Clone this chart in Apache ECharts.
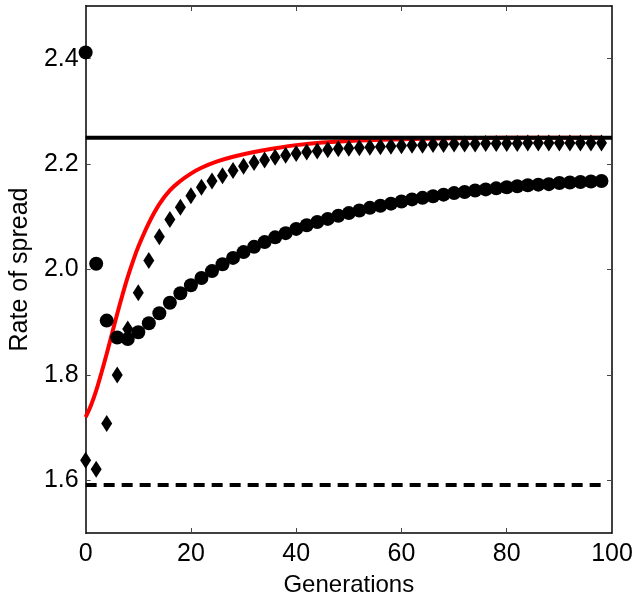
<!DOCTYPE html>
<html>
<head>
<meta charset="utf-8">
<script src="https://cdn.jsdelivr.net/npm/echarts@6/dist/echarts.min.js"></script>
<style>
  html, body { margin: 0; padding: 0; background: #fff; }
  #chart { width: 639px; height: 602px; }
</style>
</head>
<body>
<div id="chart"></div>
<script>
// generations sampled by the two simulations (every 2nd generation)
const generations = [0, 2, 4, 6, 8, 10, 12, 14, 16, 18, 20, 22, 24, 26, 28, 30, 32, 34, 36, 38,
  40, 42, 44, 46, 48, 50, 52, 54, 56, 58, 60, 62, 64, 66, 68, 70, 72, 74, 76, 78,
  80, 82, 84, 86, 88, 90, 92, 94, 96, 98];

const circleRate = [2.412, 2.011, 1.903, 1.871, 1.868, 1.881, 1.898, 1.917, 1.937, 1.955,
  1.970, 1.984, 1.997, 2.010, 2.022, 2.033, 2.043, 2.052, 2.061, 2.069,
  2.077, 2.084, 2.090, 2.096, 2.102, 2.107, 2.112, 2.117, 2.121, 2.125,
  2.129, 2.133, 2.136, 2.139, 2.142, 2.145, 2.147, 2.150, 2.152, 2.154,
  2.156, 2.158, 2.160, 2.161, 2.162, 2.164, 2.165, 2.166, 2.167, 2.168];

const diamondRate = [1.638, 1.621, 1.708, 1.800, 1.887, 1.956, 2.017, 2.062, 2.095, 2.118,
  2.140, 2.156, 2.168, 2.178, 2.188, 2.196, 2.203, 2.208, 2.213, 2.217,
  2.220, 2.223, 2.225, 2.227, 2.229, 2.230, 2.231, 2.232, 2.233, 2.234,
  2.235, 2.236, 2.236, 2.237, 2.237, 2.238, 2.238, 2.238, 2.239, 2.239,
  2.239, 2.239, 2.240, 2.240, 2.240, 2.240, 2.240, 2.240, 2.240, 2.240];

// red theory curve
const curveX = [0, 1, 2, 3, 4, 5, 6, 7, 8, 9, 10, 12, 14, 16, 18, 20, 22, 25, 28, 32, 36, 40, 45, 50, 60, 70, 80, 90, 98];
const curveY = [1.720, 1.742, 1.770, 1.804, 1.840, 1.878, 1.916, 1.952, 1.986, 2.016, 2.043, 2.088, 2.124, 2.150, 2.168, 2.182, 2.193, 2.205, 2.214, 2.223, 2.230, 2.236, 2.241, 2.244, 2.247, 2.249, 2.250, 2.250, 2.250];

const upperLevel = 2.25;
const lowerLevel = 1.591;
const upperSpan = [0, 100];
const lowerSpan = [0, 99];

const yTicks = [1.6, 1.8, 2.0, 2.2, 2.4];

const chart = echarts.init(document.getElementById('chart'));

const font = 'Liberation Sans, Arial, sans-serif';
const frame = { show: true, onZero: false, lineStyle: { color: '#000', width: 1.5 } };
const tick = { show: true, inside: true, length: 5, lineStyle: { color: '#444', width: 1 } };

const option = {
  animation: false,
  grid: { left: 82, right: 27, top: 6, bottom: 66 },
  xAxis: [
    {
      type: 'value', min: 0, max: 100, interval: 20,
      name: 'Generations', nameLocation: 'middle', nameGap: 40,
      nameTextStyle: { fontFamily: font, fontSize: 24, color: '#000' },
      axisLine: frame, axisTick: tick, splitLine: { show: false },
      axisLabel: { fontFamily: font, fontSize: 25, color: '#000', margin: 9 }
    },
    {
      type: 'value', min: 0, max: 100, interval: 20, position: 'top',
      axisLine: frame, axisTick: tick, splitLine: { show: false },
      axisLabel: { show: false }
    }
  ],
  yAxis: [
    {
      type: 'value', min: 1.5, max: 2.5,
      name: 'Rate of spread', nameLocation: 'middle', nameGap: 52, nameRotate: 90,
      nameTextStyle: { fontFamily: font, fontSize: 25, color: '#000' },
      axisLine: frame, splitLine: { show: false },
      axisTick: Object.assign({ customValues: yTicks }, tick),
      axisLabel: {
        customValues: yTicks, fontFamily: font, fontSize: 25, color: '#000', margin: 7,
        formatter: v => v.toFixed(1)
      }
    },
    {
      type: 'value', min: 1.5, max: 2.5, position: 'right',
      axisLine: frame, splitLine: { show: false },
      axisTick: Object.assign({ customValues: yTicks }, tick),
      axisLabel: { show: false }
    }
  ],
  series: [
    {
      type: 'line',
      data: curveX.map((x, i) => [x, curveY[i]]),
      smooth: 0.4, showSymbol: false,
      lineStyle: { color: '#ff0000', width: 4 },
      z: 2
    },
    {
      type: 'scatter',
      data: generations.map((g, i) => [g, diamondRate[i]]),
      symbol: 'diamond', symbolSize: [11, 17],
      itemStyle: { color: '#000', opacity: 1 },
      z: 3
    },
    {
      type: 'scatter',
      data: generations.map((g, i) => [g, circleRate[i]]),
      symbol: 'circle', symbolSize: 14,
      itemStyle: { color: '#000', opacity: 1 },
      z: 4
    },
    {
      type: 'line',
      data: upperSpan.map(x => [x, upperLevel]),
      showSymbol: false,
      lineStyle: { color: '#000', width: 4 },
      z: 5
    },
    {
      type: 'line',
      data: lowerSpan.map(x => [x, lowerLevel]),
      showSymbol: false,
      lineStyle: { color: '#000', width: 4, type: [11, 7] },
      z: 5
    }
  ]
};

chart.setOption(option);
</script>
</body>
</html>
